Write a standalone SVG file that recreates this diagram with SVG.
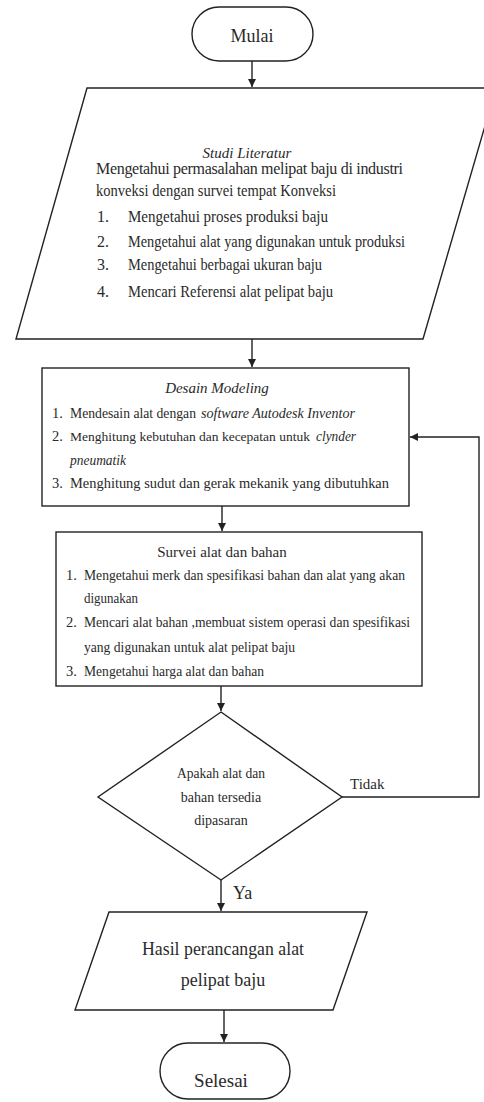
<svg xmlns="http://www.w3.org/2000/svg" width="484" height="1102" viewBox="0 0 484 1102">
<style>
.s{fill:#fff;stroke:#222;stroke-width:1.4}
.c{fill:none;stroke:#222;stroke-width:1.4}
text{font-family:"Liberation Serif","Times New Roman",serif;fill:#2a2a2a}
.i{font-style:italic}
.m{text-anchor:middle}
</style>
<defs>
<marker id="ah" markerUnits="userSpaceOnUse" markerWidth="9" markerHeight="8" refX="8" refY="4" orient="auto">
<path d="M0,0 L8,4 L0,8 z" fill="#222"/>
</marker>
</defs>
<rect width="484" height="1102" fill="#fff"/>
<g id="connectors">
<line class="c" x1="252" y1="61" x2="252" y2="87" marker-end="url(#ah)"/>
<line class="c" x1="252" y1="339" x2="252" y2="367" marker-end="url(#ah)"/>
<line class="c" x1="222" y1="506" x2="222" y2="531" marker-end="url(#ah)"/>
<line class="c" x1="221" y1="686" x2="221" y2="711" marker-end="url(#ah)"/>
<line class="c" x1="221" y1="880" x2="221" y2="911" marker-end="url(#ah)"/>
<line class="c" x1="224" y1="1010" x2="224" y2="1042" marker-end="url(#ah)"/>
<polyline class="c" points="342,797 479,797 479,437 410,437" marker-end="url(#ah)"/>
<text x="350" y="789" font-size="15">Tidak</text>
<text x="233" y="899" font-size="18">Ya</text>
</g>
<g id="mulai">
<rect class="s" x="192" y="7" width="121" height="54" rx="27"/>
<text class="m" x="252" y="42" font-size="18">Mulai</text>
</g>
<g id="studi">
<polygon class="s" points="87,88 496,88 423,339 16,339"/>
<text class="m i" x="247" y="158" font-size="15">Studi Literatur</text>
<text x="96" y="174" font-size="16" textLength="307" lengthAdjust="spacing">Mengetahui permasalahan melipat baju di industri</text>
<text x="96" y="196" font-size="16" textLength="240" lengthAdjust="spacingAndGlyphs">konveksi dengan survei tempat Konveksi</text>
<text x="97" y="222" font-size="16">1.</text>
<text x="128" y="222" font-size="16" textLength="200" lengthAdjust="spacingAndGlyphs">Mengetahui proses produksi baju</text>
<text x="97" y="247" font-size="16">2.</text>
<text x="128" y="247" font-size="16" textLength="277" lengthAdjust="spacingAndGlyphs">Mengetahui alat yang digunakan untuk produksi</text>
<text x="97" y="270" font-size="16">3.</text>
<text x="128" y="270" font-size="16" textLength="194" lengthAdjust="spacingAndGlyphs">Mengetahui berbagai ukuran baju</text>
<text x="97" y="297" font-size="16">4.</text>
<text x="128" y="297" font-size="16" textLength="205" lengthAdjust="spacingAndGlyphs">Mencari Referensi alat pelipat baju</text>
</g>
<g id="desain">
<rect class="s" x="42" y="368" width="367" height="138"/>
<text class="m i" x="217" y="393" font-size="15">Desain Modeling</text>
<text x="52" y="418" font-size="14.5">1.</text>
<text x="70" y="418" font-size="14.5" textLength="126" lengthAdjust="spacingAndGlyphs">Mendesain alat dengan</text>
<text class="i" x="201" y="418" font-size="14.5" textLength="154" lengthAdjust="spacingAndGlyphs">software  Autodesk Inventor</text>
<text x="52" y="441" font-size="14.5">2.</text>
<text x="70" y="441" font-size="13.4" textLength="240" lengthAdjust="spacingAndGlyphs">Menghitung kebutuhan dan kecepatan untuk</text>
<text class="i" x="316" y="441" font-size="14.5" textLength="40" lengthAdjust="spacingAndGlyphs">clynder</text>
<text class="i" x="70" y="465" font-size="14.5" textLength="56" lengthAdjust="spacingAndGlyphs">pneumatik</text>
<text x="52" y="488" font-size="14.5">3.</text>
<text x="70" y="488" font-size="14.5" textLength="319" lengthAdjust="spacingAndGlyphs">Menghitung sudut dan gerak mekanik yang dibutuhkan</text>
</g>
<g id="survei">
<rect class="s" x="56" y="532" width="366" height="154"/>
<text class="m" x="222" y="557" font-size="15">Survei alat dan bahan</text>
<text x="66" y="580" font-size="14.5">1.</text>
<text x="84" y="580" font-size="14.5" textLength="321" lengthAdjust="spacingAndGlyphs">Mengetahui merk dan spesifikasi bahan dan alat yang akan</text>
<text x="84" y="603" font-size="14.5" textLength="54" lengthAdjust="spacingAndGlyphs">digunakan</text>
<text x="66" y="627" font-size="14.5">2.</text>
<text x="84" y="627" font-size="14.5" textLength="326" lengthAdjust="spacingAndGlyphs">Mencari alat bahan ,membuat sistem operasi dan spesifikasi</text>
<text x="84" y="652" font-size="14.5" textLength="211" lengthAdjust="spacingAndGlyphs">yang digunakan untuk alat pelipat baju</text>
<text x="66" y="676" font-size="14.5">3.</text>
<text x="84" y="676" font-size="14.5" textLength="180" lengthAdjust="spacingAndGlyphs">Mengetahui harga alat dan bahan</text>
</g>
<g id="keputusan">
<polygon class="s" points="221,712 342,797 221,880 98,797"/>
<text class="m" x="221" y="778" font-size="14" textLength="88" lengthAdjust="spacingAndGlyphs">Apakah alat dan</text>
<text class="m" x="221" y="802" font-size="14">bahan tersedia</text>
<text class="m" x="221" y="825" font-size="14">dipasaran</text>
</g>
<g id="hasil">
<polygon class="s" points="109,912 367,912 333,1010 75,1010"/>
<text class="m" x="223" y="955" font-size="18" textLength="162" lengthAdjust="spacingAndGlyphs">Hasil perancangan alat</text>
<text class="m" x="223" y="986" font-size="18">pelipat baju</text>
</g>
<g id="selesai">
<rect class="s" x="160" y="1043" width="130" height="56" rx="28"/>
<text class="m" x="221" y="1087" font-size="19">Selesai</text>
</g>
</svg>
